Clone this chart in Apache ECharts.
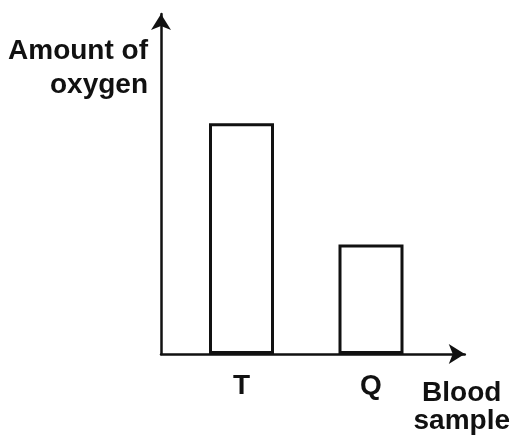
<!DOCTYPE html>
<html>
<head>
<meta charset="utf-8">
<script src="https://cdn.jsdelivr.net/npm/echarts@6/dist/echarts.min.js"></script>
<style>
html,body{margin:0;padding:0;background:#fff;}
#chart{width:513px;height:441px;}
</style>
</head>
<body>
<div id="chart"></div>
<script>
// Data
var categories = ['T', 'Q'];
var oxygenValues = [67.5, 32];
var yAxisTitle = 'Amount of\noxygen';
var xAxisTitle = 'Blood\nsample';

var FONT = '"Liberation Sans", Arial, sans-serif';
var chart = echarts.init(document.getElementById('chart'));
chart.setOption({
  backgroundColor: '#ffffff',
  animation: false,
  grid: [
    { left: 161, right: 41, top: 14, bottom: 87 },
    { left: 176.75, width: 259, top: 12, bottom: 87 }
  ],
  xAxis: [
    {
      gridIndex: 0, type: 'value', min: 0, max: 1,
      name: xAxisTitle, nameLocation: 'end', nameGap: -3,
      nameTextStyle: { fontFamily: FONT, fontSize: 28, fontWeight: 'bold', color: '#111', align: 'center', verticalAlign: 'top', lineHeight: 28, padding: [25, 0, 0, 0] },
      axisLine: { show: true, symbol: ['none', 'arrow'], symbolSize: [15, 16], lineStyle: { color: '#111', width: 2.5 } },
      axisTick: { show: false }, axisLabel: { show: false }, splitLine: { show: false }
    },
    {
      gridIndex: 1, type: 'category', data: categories,
      axisLine: { show: false }, axisTick: { show: false },
      axisLabel: { fontFamily: FONT, fontSize: 28, fontWeight: 'bold', color: '#111', margin: 18 },
      splitLine: { show: false }
    }
  ],
  yAxis: [
    {
      gridIndex: 0, type: 'value', min: 0, max: 1,
      name: yAxisTitle, nameLocation: 'end', nameGap: -20,
      nameTextStyle: { fontFamily: FONT, fontSize: 28, fontWeight: 'bold', color: '#111', align: 'right', verticalAlign: 'top', lineHeight: 34, padding: [0, 13, 0, 0] },
      axisLine: { show: true, symbol: ['none', 'arrow'], symbolSize: [15, 16], lineStyle: { color: '#111', width: 2.5 } },
      axisTick: { show: false }, axisLabel: { show: false }, splitLine: { show: false }
    },
    {
      gridIndex: 1, type: 'value', min: 0, max: 100,
      axisLine: { show: false }, axisTick: { show: false }, axisLabel: { show: false }, splitLine: { show: false }
    }
  ],
  series: [
    {
      type: 'bar', xAxisIndex: 1, yAxisIndex: 1,
      data: oxygenValues, barWidth: 65,
      itemStyle: { color: '#ffffff', borderColor: '#111', borderWidth: 3 }
    }
  ]
});
</script>
</body>
</html>
